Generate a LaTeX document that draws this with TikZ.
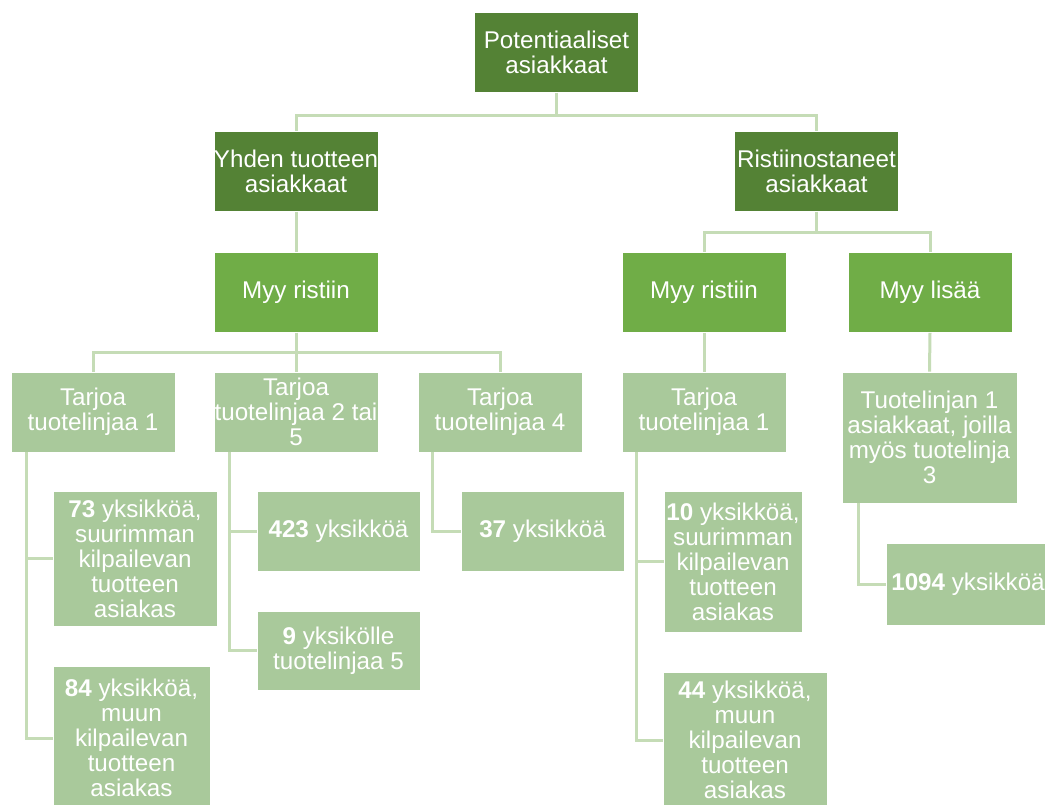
\documentclass[tikz,border=0pt]{standalone}
\usepackage{fontspec}
\setmainfont{Liberation Sans}
\definecolor{dkg}{HTML}{548235}
\definecolor{mdg}{HTML}{70AD47}
\definecolor{ltg}{HTML}{A9C99B}
\definecolor{lng}{HTML}{C5DCB6}
\tikzset{
  box/.style={rectangle, inner sep=0pt, align=center, text=white, draw=white, line width=0.6pt,
    font=\fontsize{24.2}{25}\selectfont},
  dkbox/.style={box, fill=dkg, minimum width=164pt, minimum height=80pt},
  mdbox/.style={box, fill=mdg, minimum width=164pt, minimum height=80pt},
  ltbox/.style={box, fill=ltg},
  conn/.style={draw=lng, line width=3pt}
}
\begin{document}
\begin{tikzpicture}[x=1pt,y=-1pt]
\useasboundingbox (0,0) rectangle (1045,805);
\fill[white] (0,0) rectangle (1045,805);
\clip (0,0) rectangle (1045,805);
% level 1
\node[dkbox] (top) at (556.5,52.5) {Potentiaaliset\\asiakkaat};
% level 2
\node[dkbox] (yhden) at (296,171.5) {Yhden tuotteen\\asiakkaat};
\node[dkbox] (rist) at (816.5,171.5) {Ristiinostaneet\\asiakkaat};
% level 3
\node[mdbox] (myyL) at (296,292.5) {Myy ristiin};
\node[mdbox] (myyR) at (704,292.5) {Myy ristiin};
\node[mdbox] (lisaa) at (930,292.5) {Myy lisää};
% level 4
\node[ltbox, minimum width=164pt, minimum height=80pt] (t1) at (93,412) {Tarjoa\\tuotelinjaa 1};
\node[ltbox, minimum width=164pt, minimum height=80pt] (t2) at (296,412) {Tarjoa\\tuotelinjaa 2 tai\\5};
\node[ltbox, minimum width=164pt, minimum height=80pt] (t4) at (500,412) {Tarjoa\\tuotelinjaa 4};
\node[ltbox, minimum width=164pt, minimum height=80pt] (t1R) at (704,412) {Tarjoa\\tuotelinjaa 1};
\node[ltbox, minimum width=175pt, minimum height=131pt] (tuot) at (929.5,437.5) {Tuotelinjan 1\\asiakkaat, joilla\\myös tuotelinja\\3};
% leaves
\node[ltbox, minimum width=164pt, minimum height=135pt] (n73) at (135,558.5) {\textbf{73} yksikköä,\\suurimman\\kilpailevan\\tuotteen\\asiakas};
\node[ltbox, minimum width=157pt, minimum height=144pt] (n84) at (131.5,738) {\textbf{84} yksikköä,\\muun\\kilpailevan\\tuotteen\\asiakas};
\node[ltbox, minimum width=163pt, minimum height=80pt] (n423) at (338.5,531) {\textbf{423} yksikköä};
\node[ltbox, minimum width=163pt, minimum height=79pt] (n9) at (338.5,650.5) {\textbf{9} yksikölle\\tuotelinjaa 5};
\node[ltbox, minimum width=163pt, minimum height=80pt] (n37) at (542.5,531) {\textbf{37} yksikköä};
\node[ltbox, minimum width=138pt, minimum height=141pt] (n10) at (733,561.5) {\textbf{10} yksikköä,\\suurimman\\kilpailevan\\tuotteen\\asiakas};
\node[ltbox, minimum width=164pt, minimum height=136pt] (n44) at (745,740) {\textbf{44} yksikköä,\\muun\\kilpailevan\\tuotteen\\asiakas};
\node[ltbox, minimum width=164pt, minimum height=82pt] (n1094) at (968,584) {\textbf{1094} yksikköä};
% connectors
\draw[conn] (top.south) -- ++(0,23) -| (yhden.north);
\draw[conn] (top.south) -- ++(0,23) -| (rist.north);
\draw[conn] (yhden.south) -- (myyL.north);
\draw[conn] (rist.south) -- ++(0,20.5) -| (myyR.north);
\draw[conn] (rist.south) -- ++(0,20.5) -| (lisaa.north);
\draw[conn] (myyL.south) -- ++(0,20) -| (t1.north);
\draw[conn] (myyL.south) -- ++(0,20) -| (t4.north);
\draw[conn] (myyL.south) -- (t2.north);
\draw[conn] (myyR.south) -- (t1R.north);
\draw[conn] (lisaa.south) -- (tuot.north);
\draw[conn] (t1.south west) ++(16,0) |- (n73.west);
\draw[conn] (t1.south west) ++(16,0) |- (n84.west);
\draw[conn] (t2.south west) ++(16,0) |- (n423.west);
\draw[conn] (t2.south west) ++(16,0) |- (n9.west);
\draw[conn] (t4.south west) ++(15,0) |- (n37.west);
\draw[conn] (t1R.south west) ++(15,0) |- (n10.west);
\draw[conn] (t1R.south west) ++(15,0) |- (n44.west);
\draw[conn] (tuot.south west) ++(17,0) |- (n1094.west);
\end{tikzpicture}
\end{document}
